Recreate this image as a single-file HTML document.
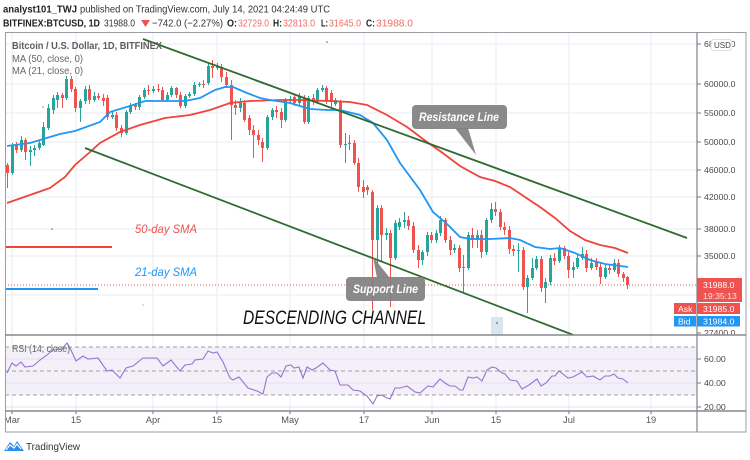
<!DOCTYPE html>
<html><head><meta charset="utf-8">
<style>
html,body{margin:0;padding:0;background:#fff;}
body{width:750px;height:460px;position:relative;overflow:hidden;font-family:"Liberation Sans",sans-serif;}
svg{position:absolute;left:0;top:0;}
.cd{position:absolute;left:5.145px;top:0;height:340px;display:flex;}
.cd i{position:relative;width:4.57px;flex:none;height:100%;display:block;}
.cd i::before{content:"";position:absolute;left:1.8px;width:1px;top:calc(var(--h)*1px);height:calc((var(--l) - var(--h))*1px);background:var(--k);}
.cd i::after{content:"";position:absolute;left:0.8px;width:3px;top:calc(min(var(--o),var(--c))*1px);height:calc(max(var(--o) - var(--c),var(--c) - var(--o),1)*1px);background:var(--k);}
.r{--k:#ef5350;}.g{--k:#26a69a;}
</style></head><body>

<svg width="750" height="460" viewBox="0 0 750 460">
  <g stroke="#e6edf3" stroke-width="1">
    <line x1="12" y1="32" x2="12" y2="411"/><line x1="76" y1="32" x2="76" y2="411"/>
    <line x1="153" y1="32" x2="153" y2="411"/><line x1="217" y1="32" x2="217" y2="411"/>
    <line x1="290" y1="32" x2="290" y2="411"/><line x1="364" y1="32" x2="364" y2="411"/>
    <line x1="432" y1="32" x2="432" y2="411"/><line x1="496" y1="32" x2="496" y2="411"/>
    <line x1="569" y1="32" x2="569" y2="411"/><line x1="651" y1="32" x2="651" y2="411"/>
    <line x1="5" y1="44" x2="697" y2="44"/><line x1="5" y1="84" x2="697" y2="84"/>
    <line x1="5" y1="113" x2="697" y2="113"/><line x1="5" y1="142" x2="697" y2="142"/>
    <line x1="5" y1="170" x2="697" y2="170"/><line x1="5" y1="197" x2="697" y2="197"/>
    <line x1="5" y1="229" x2="697" y2="229"/><line x1="5" y1="256" x2="697" y2="256"/>
    <line x1="5" y1="295" x2="697" y2="295"/>
  </g>
  <rect x="5" y="347" width="692" height="48" fill="#f3f0fa"/>
  <g stroke="#e4e0ef" stroke-width="1">
    <line x1="5" y1="359" x2="697" y2="359"/><line x1="5" y1="383" x2="697" y2="383"/><line x1="5" y1="407" x2="697" y2="407"/>
  </g>
  <g stroke="#9e9e9e" stroke-width="1" stroke-dasharray="4,3">
    <line x1="5" y1="347" x2="697" y2="347"/><line x1="5" y1="371" x2="697" y2="371"/><line x1="5" y1="395" x2="697" y2="395"/>
  </g>
  <polyline fill="none" stroke="#9575cd" stroke-width="1.1" points="7,373 12,363 16,366 21,362 25,367 33,366 40,360 47,355 53,350 62,349 67,343 70,348 76,361 83,356 88,359 98,358 107,371 112,370 120,378 126,368 133,366 143,358 157,358 163,366 171,360 180,371 185,365 192,364 195,360 203,359 208,351 213,353 217,352 223,362 230,378 233,380 239,377 248,388 257,391 263,394 267,377 272,373 277,373 281,377 286,366 291,365 294,368 299,367 303,378 307,367 312,370 316,368 323,363 330,370 335,371 340,385 348,385 353,390 360,391 367,396 373,404 377,396 382,395 385,397 390,399 395,388 400,388 407,386 415,392 420,393 428,386 433,387 440,379 445,383 450,386 455,386 460,390 463,390 468,377 473,378 477,377 482,381 487,370 492,367 496,368 502,373 505,374 510,380 517,381 522,389 529,385 537,379 541,386 546,383 552,376 555,376 559,371 568,378 573,377 582,372 587,377 593,376 600,380 605,376 610,376 614,374 618,378 623,379 628,383"/>
  <text x="12" y="352" font-size="10" fill="#666" textLength="58" lengthAdjust="spacingAndGlyphs">RSI (14, close)</text>
  <rect x="491" y="317" width="12" height="18" fill="#dae6ef"/>
  <circle cx="497" cy="323" r="0.8" fill="#445"/>
  <circle cx="43" cy="107" r="0.8" fill="#ef5350"/>
  <circle cx="143" cy="305" r="0.8" fill="#f5a0a0"/>
  <circle cx="52" cy="229" r="0.8" fill="#2e7d32"/>
  <circle cx="327" cy="42" r="0.8" fill="#2e7d32"/>
</svg>

<div class="cd">
<i class="r" style="--o:165;--c:173;--h:163;--l:188"></i>
<i class="g" style="--o:173;--c:145;--h:143;--l:175"></i>
<i class="r" style="--o:145;--c:150;--h:142;--l:153"></i>
<i class="g" style="--o:150;--c:140;--h:136;--l:152"></i>
<i class="r" style="--o:140;--c:152;--h:138;--l:160"></i>
<i class="g" style="--o:152;--c:150;--h:146;--l:166"></i>
<i class="g" style="--o:150;--c:148;--h:145;--l:156"></i>
<i class="g" style="--o:148;--c:143;--h:140;--l:150"></i>
<i class="g" style="--o:145;--c:127;--h:122;--l:146"></i>
<i class="g" style="--o:128;--c:108;--h:104;--l:130"></i>
<i class="g" style="--o:110;--c:98;--h:95;--l:114"></i>
<i class="g" style="--o:100;--c:95;--h:92;--l:108"></i>
<i class="r" style="--o:95;--c:98;--h:93;--l:108"></i>
<i class="g" style="--o:98;--c:79;--h:76;--l:100"></i>
<i class="r" style="--o:79;--c:89;--h:76;--l:92"></i>
<i class="r" style="--o:89;--c:108;--h:87;--l:112"></i>
<i class="g" style="--o:108;--c:101;--h:99;--l:122"></i>
<i class="g" style="--o:101;--c:89;--h:86;--l:104"></i>
<i class="r" style="--o:89;--c:100;--h:85;--l:104"></i>
<i class="g" style="--o:100;--c:96;--h:92;--l:102"></i>
<i class="r" style="--o:96;--c:98;--h:93;--l:100"></i>
<i class="r" style="--o:98;--c:101;--h:94;--l:106"></i>
<i class="r" style="--o:98;--c:117;--h:95;--l:120"></i>
<i class="g" style="--o:117;--c:115;--h:112;--l:119"></i>
<i class="r" style="--o:115;--c:128;--h:112;--l:131"></i>
<i class="r" style="--o:128;--c:133;--h:125;--l:137"></i>
<i class="g" style="--o:133;--c:112;--h:110;--l:135"></i>
<i class="g" style="--o:112;--c:105;--h:103;--l:114"></i>
<i class="r" style="--o:105;--c:107;--h:103;--l:110"></i>
<i class="g" style="--o:107;--c:97;--h:95;--l:110"></i>
<i class="g" style="--o:97;--c:90;--h:88;--l:99"></i>
<i class="r" style="--o:90;--c:91;--h:85;--l:95"></i>
<i class="g" style="--o:91;--c:89;--h:86;--l:93"></i>
<i class="r" style="--o:89;--c:90;--h:84;--l:92"></i>
<i class="r" style="--o:90;--c:100;--h:87;--l:102"></i>
<i class="g" style="--o:100;--c:95;--h:92;--l:102"></i>
<i class="g" style="--o:95;--c:88;--h:86;--l:97"></i>
<i class="r" style="--o:88;--c:95;--h:87;--l:98"></i>
<i class="r" style="--o:95;--c:106;--h:92;--l:108"></i>
<i class="g" style="--o:106;--c:96;--h:94;--l:108"></i>
<i class="g" style="--o:96;--c:94;--h:92;--l:98"></i>
<i class="g" style="--o:94;--c:85;--h:82;--l:96"></i>
<i class="g" style="--o:85;--c:84;--h:82;--l:87"></i>
<i class="r" style="--o:84;--c:85;--h:80;--l:88"></i>
<i class="g" style="--o:83;--c:66;--h:63;--l:85"></i>
<i class="r" style="--o:66;--c:68;--h:60;--l:78"></i>
<i class="g" style="--o:68;--c:66;--h:63;--l:70"></i>
<i class="r" style="--o:67;--c:77;--h:64;--l:82"></i>
<i class="r" style="--o:77;--c:85;--h:72;--l:88"></i>
<i class="r" style="--o:85;--c:105;--h:80;--l:140"></i>
<i class="r" style="--o:105;--c:108;--h:100;--l:115"></i>
<i class="g" style="--o:108;--c:103;--h:98;--l:112"></i>
<i class="r" style="--o:103;--c:120;--h:100;--l:122"></i>
<i class="r" style="--o:118;--c:130;--h:115;--l:135"></i>
<i class="r" style="--o:130;--c:135;--h:125;--l:158"></i>
<i class="r" style="--o:135;--c:140;--h:130;--l:145"></i>
<i class="r" style="--o:142;--c:148;--h:138;--l:162"></i>
<i class="g" style="--o:148;--c:117;--h:115;--l:150"></i>
<i class="g" style="--o:117;--c:110;--h:108;--l:120"></i>
<i class="r" style="--o:110;--c:112;--h:106;--l:118"></i>
<i class="r" style="--o:112;--c:120;--h:108;--l:128"></i>
<i class="g" style="--o:120;--c:100;--h:98;--l:122"></i>
<i class="g" style="--o:100;--c:99;--h:96;--l:103"></i>
<i class="r" style="--o:97;--c:103;--h:95;--l:106"></i>
<i class="g" style="--o:103;--c:96;--h:93;--l:106"></i>
<i class="r" style="--o:98;--c:122;--h:95;--l:124"></i>
<i class="g" style="--o:122;--c:98;--h:96;--l:124"></i>
<i class="r" style="--o:98;--c:102;--h:94;--l:105"></i>
<i class="g" style="--o:102;--c:90;--h:88;--l:104"></i>
<i class="g" style="--o:90;--c:88;--h:85;--l:92"></i>
<i class="r" style="--o:88;--c:100;--h:86;--l:104"></i>
<i class="r" style="--o:93;--c:102;--h:90;--l:110"></i>
<i class="g" style="--o:104;--c:100;--h:98;--l:106"></i>
<i class="r" style="--o:102;--c:145;--h:100;--l:148"></i>
<i class="g" style="--o:145;--c:144;--h:133;--l:163"></i>
<i class="g" style="--o:144;--c:143;--h:135;--l:150"></i>
<i class="r" style="--o:143;--c:163;--h:140;--l:165"></i>
<i class="r" style="--o:163;--c:187;--h:158;--l:192"></i>
<i class="r" style="--o:187;--c:192;--h:180;--l:198"></i>
<i class="r" style="--o:187;--c:190;--h:185;--l:195"></i>
<i class="r" style="--o:192;--c:240;--h:190;--l:310"></i>
<i class="g" style="--o:240;--c:208;--h:205;--l:268"></i>
<i class="r" style="--o:208;--c:235;--h:205;--l:262"></i>
<i class="g" style="--o:235;--c:233;--h:228;--l:240"></i>
<i class="r" style="--o:233;--c:258;--h:230;--l:307"></i>
<i class="g" style="--o:258;--c:223;--h:220;--l:260"></i>
<i class="g" style="--o:227;--c:222;--h:218;--l:230"></i>
<i class="g" style="--o:222;--c:220;--h:212;--l:228"></i>
<i class="r" style="--o:220;--c:226;--h:216;--l:230"></i>
<i class="r" style="--o:226;--c:250;--h:222;--l:253"></i>
<i class="r" style="--o:250;--c:260;--h:245;--l:268"></i>
<i class="g" style="--o:260;--c:252;--h:250;--l:265"></i>
<i class="g" style="--o:252;--c:235;--h:232;--l:256"></i>
<i class="r" style="--o:235;--c:240;--h:232;--l:243"></i>
<i class="g" style="--o:240;--c:233;--h:230;--l:243"></i>
<i class="g" style="--o:233;--c:220;--h:216;--l:236"></i>
<i class="r" style="--o:220;--c:240;--h:218;--l:243"></i>
<i class="r" style="--o:240;--c:250;--h:236;--l:255"></i>
<i class="g" style="--o:250;--c:248;--h:244;--l:253"></i>
<i class="r" style="--o:248;--c:268;--h:245;--l:272"></i>
<i class="g" style="--o:268;--c:267;--h:255;--l:293"></i>
<i class="g" style="--o:268;--c:235;--h:232;--l:270"></i>
<i class="r" style="--o:235;--c:240;--h:228;--l:248"></i>
<i class="g" style="--o:240;--c:235;--h:230;--l:248"></i>
<i class="r" style="--o:235;--c:252;--h:230;--l:258"></i>
<i class="g" style="--o:252;--c:220;--h:218;--l:255"></i>
<i class="g" style="--o:220;--c:209;--h:203;--l:223"></i>
<i class="r" style="--o:209;--c:212;--h:202;--l:216"></i>
<i class="r" style="--o:212;--c:227;--h:209;--l:230"></i>
<i class="r" style="--o:227;--c:230;--h:222;--l:235"></i>
<i class="r" style="--o:230;--c:249;--h:226;--l:254"></i>
<i class="r" style="--o:249;--c:251;--h:245;--l:256"></i>
<i class="g" style="--o:251;--c:250;--h:243;--l:272"></i>
<i class="r" style="--o:250;--c:287;--h:247;--l:290"></i>
<i class="g" style="--o:287;--c:278;--h:275;--l:313"></i>
<i class="g" style="--o:278;--c:268;--h:258;--l:280"></i>
<i class="g" style="--o:268;--c:259;--h:256;--l:270"></i>
<i class="r" style="--o:259;--c:288;--h:256;--l:292"></i>
<i class="g" style="--o:288;--c:282;--h:278;--l:303"></i>
<i class="g" style="--o:282;--c:258;--h:255;--l:285"></i>
<i class="r" style="--o:258;--c:261;--h:253;--l:265"></i>
<i class="g" style="--o:261;--c:248;--h:245;--l:263"></i>
<i class="r" style="--o:248;--c:256;--h:246;--l:259"></i>
<i class="r" style="--o:256;--c:270;--h:252;--l:278"></i>
<i class="g" style="--o:270;--c:267;--h:262;--l:278"></i>
<i class="g" style="--o:267;--c:258;--h:255;--l:269"></i>
<i class="g" style="--o:258;--c:254;--h:247;--l:260"></i>
<i class="r" style="--o:254;--c:268;--h:250;--l:272"></i>
<i class="g" style="--o:268;--c:263;--h:258;--l:270"></i>
<i class="r" style="--o:262;--c:267;--h:258;--l:270"></i>
<i class="r" style="--o:267;--c:277;--h:262;--l:284"></i>
<i class="g" style="--o:277;--c:268;--h:265;--l:279"></i>
<i class="r" style="--o:268;--c:270;--h:265;--l:274"></i>
<i class="g" style="--o:270;--c:263;--h:259;--l:272"></i>
<i class="r" style="--o:263;--c:274;--h:259;--l:277"></i>
<i class="r" style="--o:274;--c:278;--h:272;--l:282"></i>
<i class="r" style="--o:277;--c:285;--h:276;--l:289"></i>
</div>

<svg width="750" height="460" viewBox="0 0 750 460">
  <defs><clipPath id="m"><rect x="5" y="32" width="692" height="303"/></clipPath></defs>
  <g clip-path="url(#m)">
    <line x1="5" y1="285" x2="697" y2="285" stroke="#ef5350" stroke-width="1" stroke-dasharray="1,2"/>
    <polyline fill="none" stroke="#f0433a" stroke-width="1.8" points="7,203 30,195 50,188 65,177 75,165 90,152 100,143 120,132 140,125 165,118 190,115 210,110 230,103 250,101 280,100 300,100 330,101 350,102 367,105 387,115 407,127 427,142 440,151 460,166 480,177 495,181 510,187 525,197 540,207 555,218 570,231 585,240 600,245 615,248 628,253"/>
    <polyline fill="none" stroke="#2196f3" stroke-width="1.8" points="7,146 30,143 60,134 75,131 100,122 110,112 130,106 145,101 165,101 185,101 200,98 215,90 225,87 233,87 247,93 260,98 270,100 290,103 310,109 327,110 340,110 360,115 373,123 387,140 400,163 420,190 433,212 447,224 460,237 470,239 490,239 510,238 520,240 535,247 550,249 560,248 575,253 590,260 605,264 628,267"/>
    <line x1="143" y1="39" x2="687" y2="238" stroke="#2e6b2e" stroke-width="1.8"/>
    <line x1="85" y1="148" x2="576" y2="336" stroke="#2e6b2e" stroke-width="1.8"/>
    <line x1="5" y1="247" x2="112" y2="247" stroke="#f0433a" stroke-width="2"/>
    <line x1="5" y1="289" x2="98" y2="289" stroke="#2196f3" stroke-width="2"/>
  </g>
  <text x="135" y="233" font-size="12" font-style="italic" fill="#ef5350" textLength="62" lengthAdjust="spacingAndGlyphs">50-day SMA</text>
  <text x="135" y="276" font-size="12" font-style="italic" fill="#2196f3" textLength="62" lengthAdjust="spacingAndGlyphs">21-day SMA</text>
  <g fill="rgb(128,128,128)" fill-opacity="0.92">
    <rect x="412" y="105" width="95" height="24" rx="4"/>
    <polygon points="455,128 468,128 476,155"/>
    <rect x="346" y="277" width="79" height="24" rx="4"/>
    <polygon points="377,278 390,278 373,257"/>
  </g>
  <text x="419" y="121" font-size="11.5" font-weight="bold" font-style="italic" fill="#fff" textLength="80" lengthAdjust="spacingAndGlyphs">Resistance Line</text>
  <text x="353" y="293" font-size="11.5" font-weight="bold" font-style="italic" fill="#fff" textLength="65" lengthAdjust="spacingAndGlyphs">Support Line</text>
  <text x="243" y="324" font-size="19" font-style="italic" fill="#111" textLength="183" lengthAdjust="spacingAndGlyphs">DESCENDING CHANNEL</text>

  <text x="12" y="49" font-size="10" font-weight="bold" fill="#5d5d5d" textLength="150" lengthAdjust="spacingAndGlyphs">Bitcoin / U.S. Dollar, 1D, BITFINEX</text>
  <text x="12" y="62" font-size="10" fill="#666" textLength="71" lengthAdjust="spacingAndGlyphs">MA (50, close, 0)</text>
  <text x="12" y="74" font-size="10" fill="#666" textLength="71" lengthAdjust="spacingAndGlyphs">MA (21, close, 0)</text>

  <text x="3" y="12.5" font-size="10.5" font-weight="bold" fill="#222" textLength="74" lengthAdjust="spacingAndGlyphs">analyst101_TWJ</text>
  <text x="80" y="12.5" font-size="10.5" fill="#333" textLength="250" lengthAdjust="spacingAndGlyphs">published on TradingView.com, July 14, 2021 04:24:49 UTC</text>
  <text x="3" y="26.5" font-size="10.5" font-weight="bold" fill="#222" textLength="97" lengthAdjust="spacingAndGlyphs">BITFINEX:BTCUSD, 1D</text>
  <text x="104" y="26.5" font-size="10.5" fill="#333" textLength="31" lengthAdjust="spacingAndGlyphs">31988.0</text>
  <polygon points="141,20 150,20 145.5,27" fill="#ef5350"/>
  <text x="152" y="26.5" font-size="10.5" fill="#333" textLength="71" lengthAdjust="spacingAndGlyphs">−742.0 (−2.27%)</text>
  <text x="227" y="26.5" font-size="10.5" font-weight="bold" fill="#222" textLength="10" lengthAdjust="spacingAndGlyphs">O:</text>
  <text x="238" y="26.5" font-size="10.5" fill="#f26b63" textLength="31" lengthAdjust="spacingAndGlyphs">32729.0</text>
  <text x="273" y="26.5" font-size="10.5" font-weight="bold" fill="#222" textLength="9" lengthAdjust="spacingAndGlyphs">H:</text>
  <text x="283" y="26.5" font-size="10.5" fill="#f26b63" textLength="32" lengthAdjust="spacingAndGlyphs">32813.0</text>
  <text x="321" y="26.5" font-size="10.5" font-weight="bold" fill="#222" textLength="7" lengthAdjust="spacingAndGlyphs">L:</text>
  <text x="329" y="26.5" font-size="10.5" fill="#f26b63" textLength="32" lengthAdjust="spacingAndGlyphs">31645.0</text>
  <text x="366" y="26.5" font-size="10.5" font-weight="bold" fill="#222" textLength="9" lengthAdjust="spacingAndGlyphs">C:</text>
  <text x="376" y="26.5" font-size="10.5" fill="#f26b63" textLength="37" lengthAdjust="spacingAndGlyphs">31988.0</text>

  <rect x="697" y="33" width="49" height="378" fill="#fff"/>
  <rect x="5" y="411" width="741" height="21" fill="#fff"/>
  <rect x="5.5" y="32.5" width="740.5" height="399.5" fill="none" stroke="#9a9da3" stroke-width="1"/>
  <line x1="697" y1="32" x2="697" y2="432" stroke="#8a8d93" stroke-width="1.3"/>
  <line x1="5" y1="335" x2="746" y2="335" stroke="#86898f" stroke-width="1.6"/>
  <line x1="5" y1="411" x2="746" y2="411" stroke="#86898f" stroke-width="1.4"/>

  <g stroke="#777" stroke-width="1">
    <line x1="697" y1="44" x2="701" y2="44"/><line x1="697" y1="84" x2="701" y2="84"/>
    <line x1="697" y1="113" x2="701" y2="113"/><line x1="697" y1="142" x2="701" y2="142"/>
    <line x1="697" y1="170" x2="701" y2="170"/><line x1="697" y1="197" x2="701" y2="197"/>
    <line x1="697" y1="229" x2="701" y2="229"/><line x1="697" y1="256" x2="701" y2="256"/>
    <line x1="697" y1="333" x2="701" y2="333"/>
    <line x1="697" y1="359" x2="701" y2="359"/><line x1="697" y1="383" x2="701" y2="383"/><line x1="697" y1="407" x2="701" y2="407"/>
  </g>
  <g font-size="8.7" fill="#4a4a4a">
    <text x="704" y="47">68000.0</text>
    <text x="704" y="87">60000.0</text>
    <text x="704" y="116">55000.0</text>
    <text x="704" y="145">50000.0</text>
    <text x="704" y="173">46000.0</text>
    <text x="704" y="200">42000.0</text>
    <text x="704" y="232">38000.0</text>
    <text x="704" y="259">35000.0</text>
    <text x="704" y="362">60.00</text>
    <text x="704" y="386">40.00</text>
  </g>
  <svg x="697" y="320" width="49" height="14.2" overflow="hidden">
    <text x="7" y="16" font-size="8.7" fill="#4a4a4a">27400.0</text>
  </svg>
  <svg x="697" y="398" width="49" height="12.3" overflow="hidden">
    <text x="7" y="12" font-size="8.7" fill="#4a4a4a">20.00</text>
  </svg>
  <rect x="711" y="39.5" width="21" height="11" rx="3" fill="#fff" stroke="#d4d4d4" stroke-width="0.8"/>
  <text x="714" y="48" font-size="8" fill="#444">USD</text>

  <rect x="697" y="278" width="45" height="24" fill="#ef5350"/>
  <text x="703" y="288" font-size="8.7" fill="#fff">31988.0</text>
  <text x="703" y="299" font-size="8.7" fill="#fde3e2">19:35:13</text>
  <rect x="674" y="303" width="22" height="11" fill="#ef5350"/>
  <text x="678" y="312" font-size="8.7" fill="#fff">Ask</text>
  <rect x="697" y="303" width="43" height="11" fill="#ef5350"/>
  <text x="703" y="312" font-size="8.7" fill="#fff">31985.0</text>
  <rect x="674" y="316" width="22" height="10.5" fill="#2196f3"/>
  <text x="678" y="324.5" font-size="8.7" fill="#fff">Bid</text>
  <rect x="697" y="316" width="43" height="10.5" fill="#2196f3"/>
  <text x="703" y="324.5" font-size="8.7" fill="#fff">31984.0</text>

  <g stroke="#777" stroke-width="1">
    <line x1="12" y1="411" x2="12" y2="414"/><line x1="76" y1="411" x2="76" y2="414"/>
    <line x1="153" y1="411" x2="153" y2="414"/><line x1="217" y1="411" x2="217" y2="414"/>
    <line x1="290" y1="411" x2="290" y2="414"/><line x1="364" y1="411" x2="364" y2="414"/>
    <line x1="432" y1="411" x2="432" y2="414"/><line x1="496" y1="411" x2="496" y2="414"/>
    <line x1="569" y1="411" x2="569" y2="414"/><line x1="651" y1="411" x2="651" y2="414"/>
  </g>
  <svg x="6" y="412" width="690" height="19" overflow="hidden">
    <g font-size="9.3" fill="#555" text-anchor="middle">
      <text x="6" y="11">Mar</text>
      <text x="70" y="11">15</text>
      <text x="147" y="11">Apr</text>
      <text x="211" y="11">15</text>
      <text x="284" y="11">May</text>
      <text x="358" y="11">17</text>
      <text x="426" y="11">Jun</text>
      <text x="490" y="11">15</text>
      <text x="563" y="11">Jul</text>
      <text x="645" y="11">19</text>
    </g>
  </svg>

  <g fill="#2a8ef0">
    <path d="M4,451 L10,442 L14,446 L17,441 L24,451 Z"/>
  </g>
  <path d="M6,450 L10,445 L14,448 L17,444 L21,449" fill="none" stroke="#fff" stroke-width="1.2"/>
  <text x="26" y="450" font-size="10.5" fill="#333" textLength="54" lengthAdjust="spacingAndGlyphs">TradingView</text>
</svg>
</body></html>
